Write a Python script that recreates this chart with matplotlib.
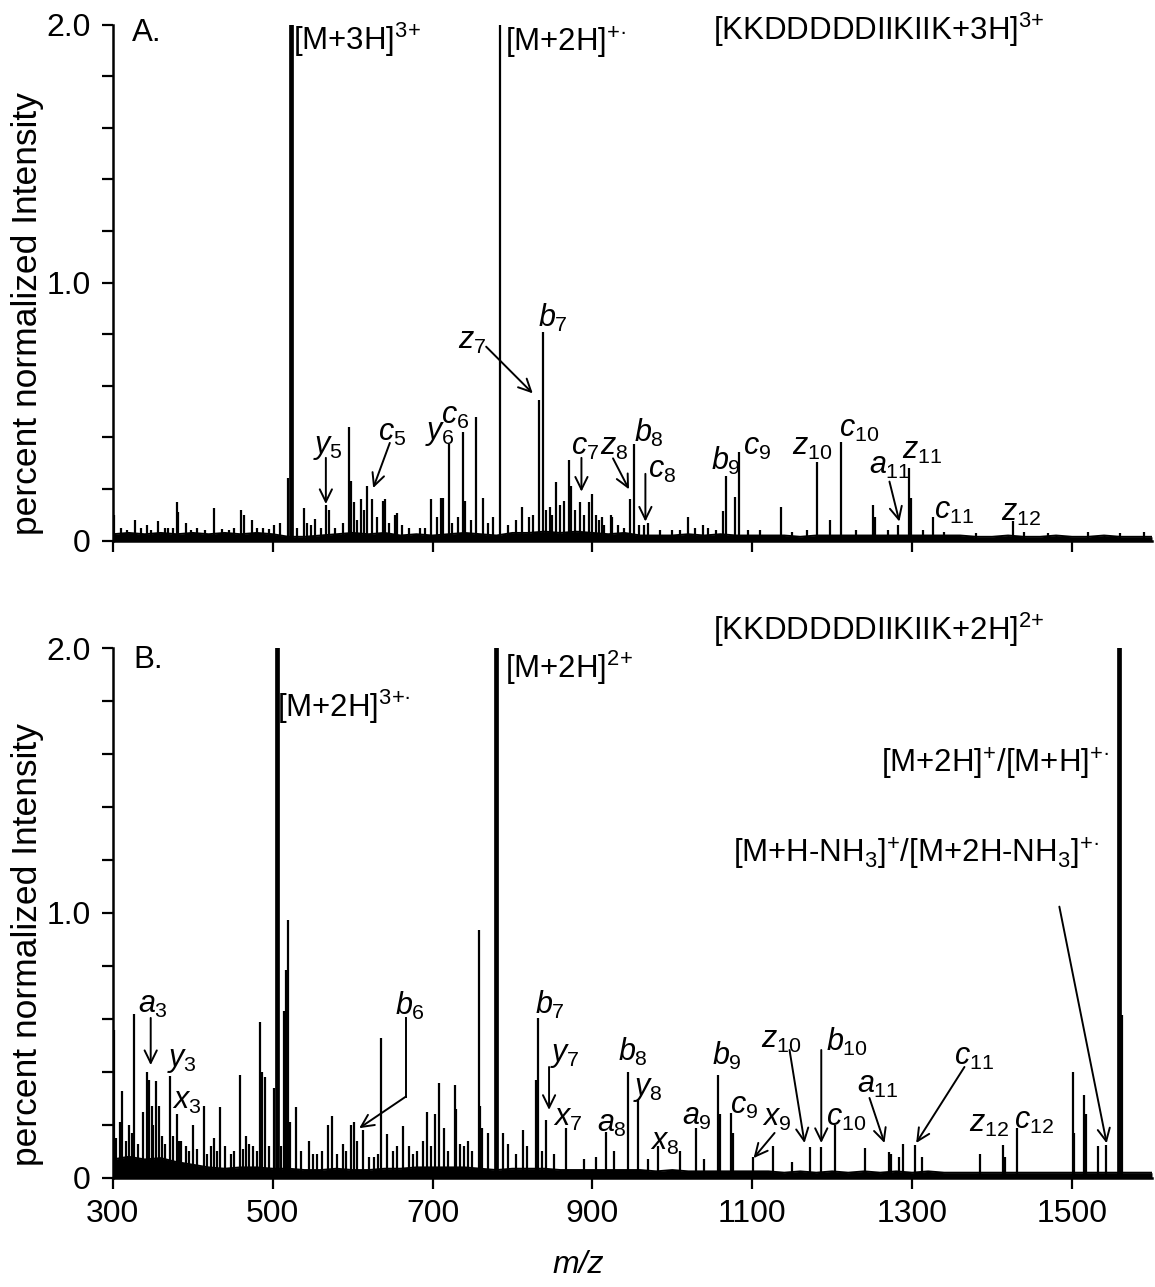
import matplotlib.pyplot as plt
import numpy as np

plt.rcParams['font.family'] = ['Liberation Sans', 'DejaVu Sans']
plt.rcParams['mathtext.fontset'] = 'custom'
plt.rcParams['mathtext.rm'] = 'Liberation Sans'
plt.rcParams['mathtext.it'] = 'Liberation Sans:italic'

# ---- espectro A: [KKDDDDDIIKIIK+3H]3+ ----
a_base_mz = np.arange(300, 1601, 20)
a_base_int = [0.025, 0.03, 0.025, 0.03, 0.025, 0.03, 0.025, 0.03, 0.025, 0.03,
              0.025, 0.015, 0.015, 0.02, 0.025, 0.03, 0.025, 0.03, 0.02, 0.025,
              0.02, 0.025, 0.03, 0.025, 0.02, 0.03, 0.03, 0.035, 0.03, 0.035,
              0.03, 0.025, 0.03, 0.02, 0.02, 0.02, 0.025, 0.02, 0.025, 0.02,
              0.02, 0.02, 0.02, 0.015, 0.02, 0.02, 0.02, 0.02, 0.02, 0.02,
              0.02, 0.02, 0.02, 0.02, 0.015, 0.015, 0.02, 0.015, 0.015, 0.02,
              0.015, 0.015, 0.02, 0.015, 0.015, 0.015]
a_peak_mz = [301, 310, 318, 328, 335, 342.5, 348, 357, 365, 369.5, 375, 380, 382,
             391.6, 398, 405, 415, 427, 437, 445, 452, 461, 464, 474, 480, 488,
             496, 502, 509, 519.6, 522.5, 530, 539, 543, 548, 553, 560, 566.6,
             570.8, 578, 588, 595.8, 597.5, 601.6, 605, 610, 614, 618, 623.7, 630,
             638, 641, 645, 653.7, 656, 662, 670, 684, 690, 698, 705, 711, 713,
             720.6, 725, 731.6, 738.3, 741, 748, 755, 763, 770, 775.8, 785, 795,
             805, 812.5, 820.8, 826, 832.6, 838, 842.5, 847.5, 850, 855, 859.6, 865,
             870.4, 873, 878, 884, 890, 895.4, 900, 904, 908, 912.4, 915, 922.9,
             925, 932, 940, 946.6, 952.4, 958, 965, 969.6, 985, 999, 1010, 1019.5,
             1028, 1038, 1045, 1055, 1064, 1066.6, 1079, 1084, 1095, 1110, 1136,
             1150, 1169, 1180.8, 1196.6, 1211, 1230, 1250.8, 1254, 1270, 1282,
             1295.8, 1298.6, 1314, 1326.6, 1340, 1380, 1425.8, 1440, 1470, 1520,
             1560, 1590]
a_peak_int = [0.10, 0.05, 0.04, 0.08, 0.05, 0.06, 0.04, 0.078, 0.05, 0.05, 0.05,
              0.149, 0.11, 0.07, 0.04, 0.05, 0.04, 0.128, 0.045, 0.04, 0.05, 0.119,
              0.10, 0.08, 0.05, 0.05, 0.045, 0.06, 0.07, 0.244, 100, 0.05, 0.128,
              0.07, 0.06, 0.085, 0.05, 0.14, 0.118, 0.05, 0.07, 0.442, 0.23, 0.15,
              0.08, 0.16, 0.12, 0.212, 0.16, 0.09, 0.155, 0.16, 0.07, 0.10, 0.107,
              0.06, 0.05, 0.05, 0.05, 0.16, 0.09, 0.166, 0.166, 0.373, 0.07, 0.09,
              0.42, 0.155, 0.08, 0.481, 0.166, 0.07, 0.09, 100, 0.06, 0.08, 0.13,
              0.09, 0.10, 0.545, 0.81, 0.12, 0.13, 0.10, 0.226, 0.14, 0.155, 0.313,
              0.212, 0.12, 0.149, 0.10, 0.15, 0.18, 0.10, 0.08, 0.09, 0.06, 0.10,
              0.09, 0.06, 0.05, 0.16, 0.373, 0.06, 0.06, 0.07, 0.04, 0.04, 0.04,
              0.09, 0.05, 0.06, 0.05, 0.04, 0.115, 0.25, 0.17, 0.342, 0.04, 0.04,
              0.13, 0.035, 0.04, 0.304, 0.08, 0.381, 0.04, 0.14, 0.09, 0.04, 0.06,
              0.28, 0.166, 0.04, 0.09, 0.035, 0.03, 0.078, 0.035, 0.03, 0.035, 0.03,
              0.035]

# ---- espectro B: [KKDDDDDIIKIIK+2H]2+ ----
b_base_mz = np.arange(300, 1601, 20)
b_base_int = [0.07, 0.08, 0.07, 0.075, 0.06, 0.05, 0.04, 0.035, 0.04, 0.04,
              0.035, 0.035, 0.03, 0.03, 0.035, 0.03, 0.03, 0.035, 0.035, 0.04,
              0.04, 0.04, 0.04, 0.035, 0.03, 0.035, 0.035, 0.035, 0.03, 0.03,
              0.03, 0.03, 0.03, 0.03, 0.025, 0.03, 0.025, 0.025, 0.025, 0.025,
              0.025, 0.025, 0.02, 0.025, 0.02, 0.025, 0.02, 0.025, 0.02, 0.025,
              0.02, 0.025, 0.02, 0.02, 0.02, 0.02, 0.02, 0.02, 0.02, 0.02,
              0.02, 0.02, 0.02, 0.02, 0.02, 0.02]
b_peak_mz = [301, 304, 309, 312, 316, 320, 324, 327, 332, 337.5, 342.5, 345, 349,
             351, 354, 358, 362, 366, 371.6, 376, 380, 383, 386, 392, 395, 400,
             406, 414.6, 418, 423, 427, 431, 434, 440, 448, 452, 459, 463, 467,
             471, 476, 480, 484, 487, 490, 495, 501.6, 505, 510, 514.5, 516.6, 519,
             522, 529, 535, 545, 550, 555, 562, 568.7, 573.7, 580, 588, 592, 597.5,
             601.5, 606, 613, 620, 627, 632, 636, 643, 650, 656, 663, 670, 676,
             680, 688, 693.7, 698, 703, 708, 714, 720, 728, 730, 735, 740, 745,
             750, 758, 760, 762, 769, 780, 788, 795, 805, 813, 818, 830, 832.5, 837,
             842.5, 852, 867.5, 890, 905, 917.5, 927, 944.6, 957.5, 970, 982, 1010,
             1030, 1040, 1057, 1059, 1073.7, 1076, 1100.8, 1125.8, 1150, 1171.6,
             1186, 1203.7, 1241.6, 1271.6, 1274, 1283, 1289, 1304, 1312, 1385,
             1413, 1416, 1431, 1500.8, 1503, 1515, 1517, 1533, 1543, 1559, 1562.5]
b_peak_int = [0.56, 0.15, 0.21, 0.328, 0.14, 0.20, 0.17, 0.62, 0.13, 0.25, 0.40,
              0.37, 0.27, 0.20, 0.367, 0.27, 0.16, 0.13, 0.385, 0.16, 0.24, 0.14,
              0.14, 0.12, 0.10, 0.20, 0.11, 0.27, 0.09, 0.12, 0.15, 0.10, 0.267,
              0.12, 0.09, 0.10, 0.39, 0.11, 0.16, 0.13, 0.12, 0.10, 0.59, 0.40,
              0.38, 0.12, 0.34, 100, 0.12, 0.63, 0.785, 0.974, 0.21, 0.267, 0.10,
              0.14, 0.09, 0.09, 0.10, 0.20, 0.235, 0.09, 0.13, 0.10, 0.20, 0.21,
              0.14, 0.18, 0.08, 0.08, 0.09, 0.53, 0.165, 0.10, 0.12, 0.197, 0.12,
              0.09, 0.10, 0.14, 0.25, 0.12, 0.24, 0.357, 0.19, 0.10, 0.35, 0.26,
              0.13, 0.12, 0.14, 0.10, 0.936, 0.27, 0.19, 0.17, 100, 0.17, 0.13,
              0.09, 0.18, 0.12, 0.37, 0.603, 0.10, 0.22, 0.09, 0.19, 0.07, 0.08,
              0.175, 0.10, 0.40, 0.297, 0.07, 0.12, 0.10, 0.19, 0.07, 0.389, 0.24,
              0.244, 0.17, 0.08, 0.12, 0.06, 0.118, 0.118, 0.20, 0.115, 0.097,
              0.09, 0.08, 0.13, 0.125, 0.08, 0.09, 0.125, 0.08, 0.187, 0.40, 0.17,
              0.313, 0.24, 0.12, 0.125, 100, 0.615]

# picos fuera de escala que se dibujan con trazo fino
a_finos = [785]
b_finos = []

FS = 23
FS_TXT = 22.5
FS_FRAG = 22

# etiquetas de fragmentos: (texto, m/z, intensidad)
frag_a = [(r'$y_{5}$', 550.4, 0.365), (r'$c_{5}$', 631.6, 0.419),
          (r'$y_{6}$', 690.4, 0.419), (r'$c_{6}$', 711, 0.483),
          (r'$z_{7}$', 731.6, 0.774), (r'$b_{7}$', 831.6, 0.863),
          (r'$c_{7}$', 873.8, 0.364), (r'$z_{8}$', 909, 0.364),
          (r'$b_{8}$', 951.6, 0.417), (r'$c_{8}$', 969, 0.274),
          (r'$b_{9}$', 1048.8, 0.309), (r'$c_{9}$', 1088, 0.364),
          (r'$z_{10}$', 1150, 0.364), (r'$c_{10}$', 1209, 0.431),
          (r'$a_{11}$', 1246.5, 0.29), (r'$z_{11}$', 1287.9, 0.346),
          (r'$c_{11}$', 1327.9, 0.115), (r'$z_{12}$', 1411, 0.109)]
flechas_a = [((767.1, 0.752), (825.4, 0.571)), ((566.6, 0.321), (566.6, 0.142)),
             ((646.6, 0.379), (625.8, 0.204)), ((886.3, 0.321), (886.3, 0.19)),
             ((925.8, 0.319), (945.8, 0.199)), ((966.3, 0.259), (966.3, 0.074)),
             ((1271.6, 0.229), (1284, 0.074))]

frag_b = [(r'$a_{3}$', 331.6, 0.653), (r'$y_{3}$', 367.9, 0.445),
          (r'$x_{3}$', 374.1, 0.291), (r'$b_{6}$', 652.9, 0.649),
          (r'$b_{7}$', 827.9, 0.653), (r'$y_{7}$', 846.6, 0.466),
          (r'$x_{7}$', 850.4, 0.226), (r'$a_{8}$', 905.4, 0.202),
          (r'$b_{8}$', 931.6, 0.477), (r'$y_{8}$', 950.4, 0.336),
          (r'$x_{8}$', 971.6, 0.136), (r'$a_{9}$', 1011.6, 0.232),
          (r'$b_{9}$', 1049, 0.462), (r'$c_{9}$', 1071.6, 0.27),
          (r'$x_{9}$', 1111.6, 0.228), (r'$z_{10}$', 1111.3, 0.521),
          (r'$b_{10}$', 1192.5, 0.514), (r'$c_{10}$', 1192.5, 0.226),
          (r'$a_{11}$', 1231.6, 0.351), (r'$c_{11}$', 1352.9, 0.457),
          (r'$z_{12}$', 1371.6, 0.204), (r'$c_{12}$', 1427.9, 0.215)]
flechas_b = [((347.5, 0.604), (347.5, 0.426)), ((845.8, 0.419), (845.8, 0.257)),
             ((1127.9, 0.17), (1101.6, 0.075)), ((1146.6, 0.483), (1165.4, 0.132)),
             ((1186.3, 0.483), (1186.3, 0.132)), ((1246.6, 0.302), (1265.4, 0.132)),
             ((1365.4, 0.419), (1305, 0.132)), ((1484.1, 1.024), (1543.3, 0.131)),
             ((666.6, 0.307), (608.3, 0.188))]


def dibujar_espectro(ax, base_mz, base_int, pico_mz, pico_int, finos):
    ax.fill_between(base_mz, 0, base_int, color='black', lw=0)
    ax.plot(base_mz, base_int, color='black', lw=1.4)
    pico_mz = np.asarray(pico_mz)
    pico_int = np.asarray(pico_int)
    grueso = (pico_int > 2) & ~np.isin(pico_mz, finos)
    ax.vlines(pico_mz[~grueso], 0, pico_int[~grueso], color='black', lw=1.6)
    ax.vlines(pico_mz[grueso], 0, pico_int[grueso], color='black', lw=3.4)
    ax.set_xlim(300, 1600)
    ax.set_ylim(0, 2.0)
    for s in ['top', 'right']:
        ax.spines[s].set_visible(False)
    for s in ['left', 'bottom']:
        ax.spines[s].set_linewidth(1.8)
    ax.set_yticks([0, 1.0, 2.0])
    ax.set_yticklabels(['0', '1.0', '2.0'])
    ax.set_yticks(np.arange(0, 2.01, 0.2), minor=True)
    ax.set_xticks(range(300, 1600, 200))
    ax.tick_params(axis='both', which='both', direction='out', width=1.6,
                   length=8, labelsize=FS)
    ax.tick_params(axis='y', pad=8)
    ax.tick_params(axis='x', pad=7)
    ax.set_ylabel('percent normalized Intensity', fontsize=25.5)
    ax.yaxis.set_label_coords(-0.066, 0.44)


def flecha(ax, ini, fin):
    ax.annotate('', xy=fin, xytext=ini,
                arrowprops=dict(arrowstyle='->,head_length=0.45,head_width=0.22',
                                lw=1.4, color='black', mutation_scale=20,
                                shrinkA=0, shrinkB=0))


fig = plt.figure(figsize=(11.55, 12.87), dpi=100)
ax_a = fig.add_axes([0.0976, 0.5799, 0.8998, 0.4009])
ax_b = fig.add_axes([0.0976, 0.0847, 0.8998, 0.4118])

dibujar_espectro(ax_a, a_base_mz, a_base_int, a_peak_mz, a_peak_int, a_finos)
dibujar_espectro(ax_b, b_base_mz, b_base_int, b_peak_mz, b_peak_int, b_finos)
ax_a.tick_params(axis='x', labelbottom=False)

# Panel A
ax_a.text(323.7, 1.937, 'A.', fontsize=FS_TXT)
ax_a.text(525, 1.902, r'[M+3H]$^{3{+}}$', fontsize=FS_TXT)
ax_a.text(790.4, 1.894, r'[M+2H]$^{{+}·}$', fontsize=FS_TXT)
ax_a.text(1050.4, 1.941, r'[KKDDDDDIIKIIK+3H]$^{3{+}}$', fontsize=FS_TXT)
for t, x, y in frag_a:
    ax_a.text(x, y, t, fontsize=FS_FRAG, ha='left', va='center')
for ini, fin in flechas_a:
    flecha(ax_a, ini, fin)

# Panel B
ax_b.text(325.4, 1.925, 'B.', fontsize=FS_TXT)
ax_b.text(505.4, 1.74, r'[M+2H]$^{3{+}·}$', fontsize=FS_TXT)
ax_b.text(790.4, 1.887, r'[M+2H]$^{2{+}}$', fontsize=FS_TXT)
ax_b.text(1050.4, 2.03, r'[KKDDDDDIIKIIK+2H]$^{2{+}}$', fontsize=FS_TXT, clip_on=False)
ax_b.text(1546.6, 1.528, r'[M+2H]$^{+}$/[M+H]$^{{+}·}$', fontsize=FS_TXT, ha='right')
ax_b.text(1075.4, 1.189, r'[M+H-NH$_{3}$]$^{+}$/[M+2H-NH$_{3}$]$^{{+}·}$',
          fontsize=FS_TXT)
for t, x, y in frag_b:
    ax_b.text(x, y, t, fontsize=FS_FRAG, ha='left', va='center')
ax_b.plot([666.6, 666.6], [0.604, 0.307], color='black', lw=1.4)
for ini, fin in flechas_b:
    flecha(ax_b, ini, fin)

fig.text(578 / 1155, 1 - 1265 / 1287, 'm/z', fontsize=FS, fontstyle='italic',
         ha='center', va='center')

plt.savefig('out.png', dpi=100)
